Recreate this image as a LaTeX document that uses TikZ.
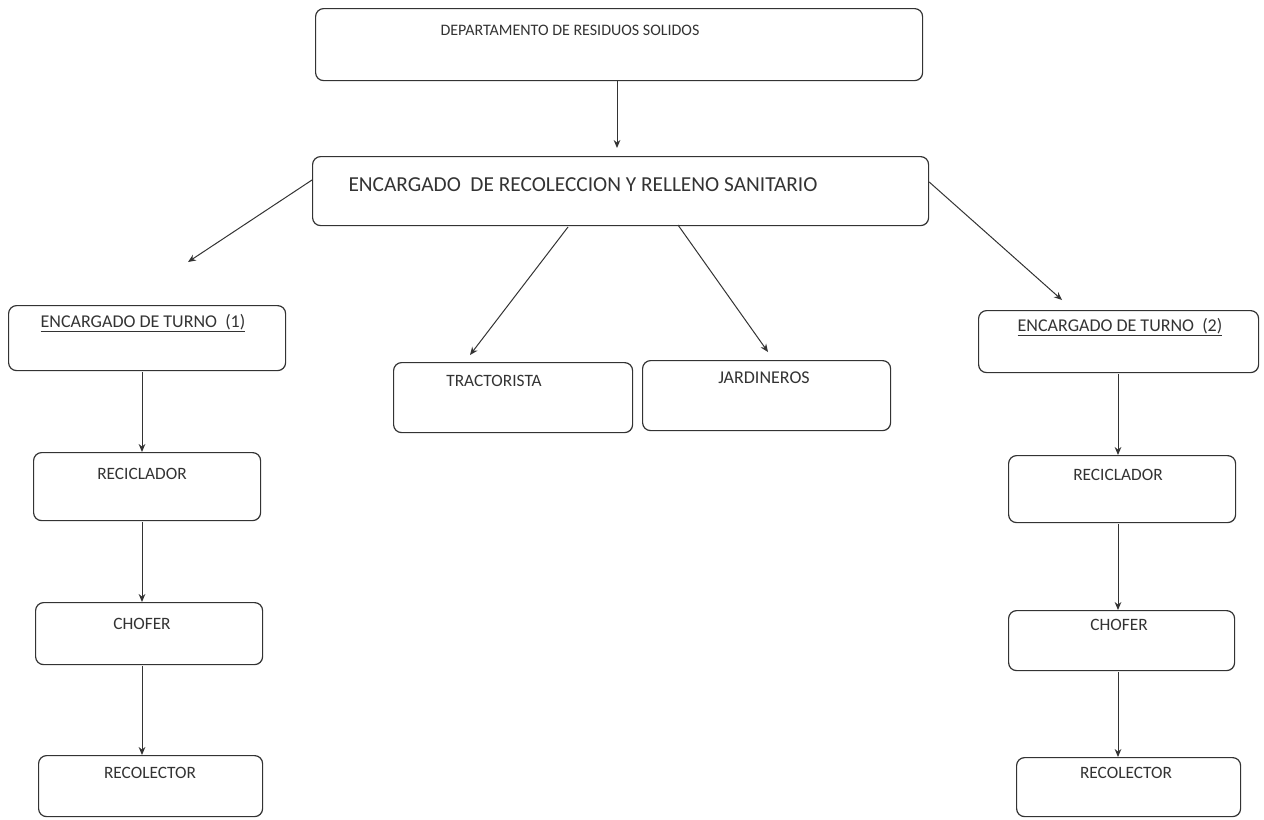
\documentclass[tikz,border=0pt]{standalone}
\usepackage{fontspec}
\setmainfont{Carlito}
\usetikzlibrary{arrows.meta,calc}
\tikzset{
  box/.style={draw=black!80, line width=0.9pt, rounded corners=6pt, anchor=north west, inner sep=0pt},
  lbl/.style={anchor=base, inner sep=0pt, text=black!80, font=\fontsize{13}{15}\selectfont},
  arr/.style={draw=black!80, line width=0.75pt, -{Stealth[length=6pt,width=5pt]}}
}
\newcommand{\bx}[6]{% name, x1, y1, x2, y2
  \path let \p1=(#2,#3), \p2=(#4,#5) in node[box, minimum width=\x2-\x1, minimum height=\y1-\y2] (#1) at (\p1) {};
}
\begin{document}
\begin{tikzpicture}[x=0.75pt,y=-0.75pt]
\useasboundingbox (0,0) rectangle (1264,819);
% boxes
\bx{dep}{315}{8}{922}{80}{}
\bx{enc}{312}{156}{928}{225}{}
\bx{t1}{8}{305}{285}{370}{}
\bx{t2}{978}{310}{1258}{372}{}
\bx{tra}{393}{362}{632}{432}{}
\bx{jar}{642}{360}{890}{430}{}
\bx{r1}{33}{452}{260}{520}{}
\bx{c1}{35}{602}{262}{664}{}
\bx{e1}{38}{755}{262}{816}{}
\bx{r2}{1008}{455}{1235}{522}{}
\bx{c2}{1008}{610}{1234}{670}{}
\bx{e2}{1016}{757}{1240}{816}{}
% labels
\node[lbl, font=\fontsize{12}{14}\selectfont] (ldep) at (570,35) {DEPARTAMENTO DE RESIDUOS SOLIDOS};
\node[lbl, font=\fontsize{16}{18}\selectfont] (lenc) at (583,191) {ENCARGADO\ \ DE RECOLECCION Y RELLENO SANITARIO};
\node[lbl, font=\fontsize{13.5}{15}\selectfont] (lt1) at (143,327) {\underline{ENCARGADO DE TURNO\ \ (1)}};
\node[lbl, font=\fontsize{13.5}{15}\selectfont] (lt2) at (1120,331) {\underline{ENCARGADO DE TURNO\ \ (2)}};
\node[lbl] (ltra) at (494,386) {TRACTORISTA};
\node[lbl, font=\fontsize{13.5}{15}\selectfont] (ljar) at (764,383) {JARDINEROS};
\node[lbl] (lr1) at (142,479) {RECICLADOR};
\node[lbl] (lc1) at (142,629) {CHOFER};
\node[lbl] (le1) at (150,778) {RECOLECTOR};
\node[lbl] (lr2) at (1118,480) {RECICLADOR};
\node[lbl] (lc2) at (1119,630) {CHOFER};
\node[lbl] (le2) at (1126,778) {RECOLECTOR};
% helper coordinates
\coordinate (a1) at (188,262);
\coordinate (a2) at (1062,300);
\coordinate (a3) at (470,355);
\coordinate (a4) at (768,352);
% arrows
\draw[arr] (dep.south -| 617,0) -- (617,148);
\draw[arr] (enc.west |- 0,180) -- (a1);
\draw[arr] (enc.east |- 0,182) -- (a2);
\draw[arr] (568,227) -- (a3);
\draw[arr] (678,225) -- (a4);
\draw[arr] (142,372) -- (r1.north -| 142,0);
\draw[arr] (142,522) -- (c1.north -| 142,0);
\draw[arr] (142,666) -- (e1.north -| 142,0);
\draw[arr] (1118,374) -- (r2.north -| 1118,0);
\draw[arr] (1118,524) -- (c2.north -| 1118,0);
\draw[arr] (1118,672) -- (e2.north -| 1118,0);
\end{tikzpicture}
\end{document}
